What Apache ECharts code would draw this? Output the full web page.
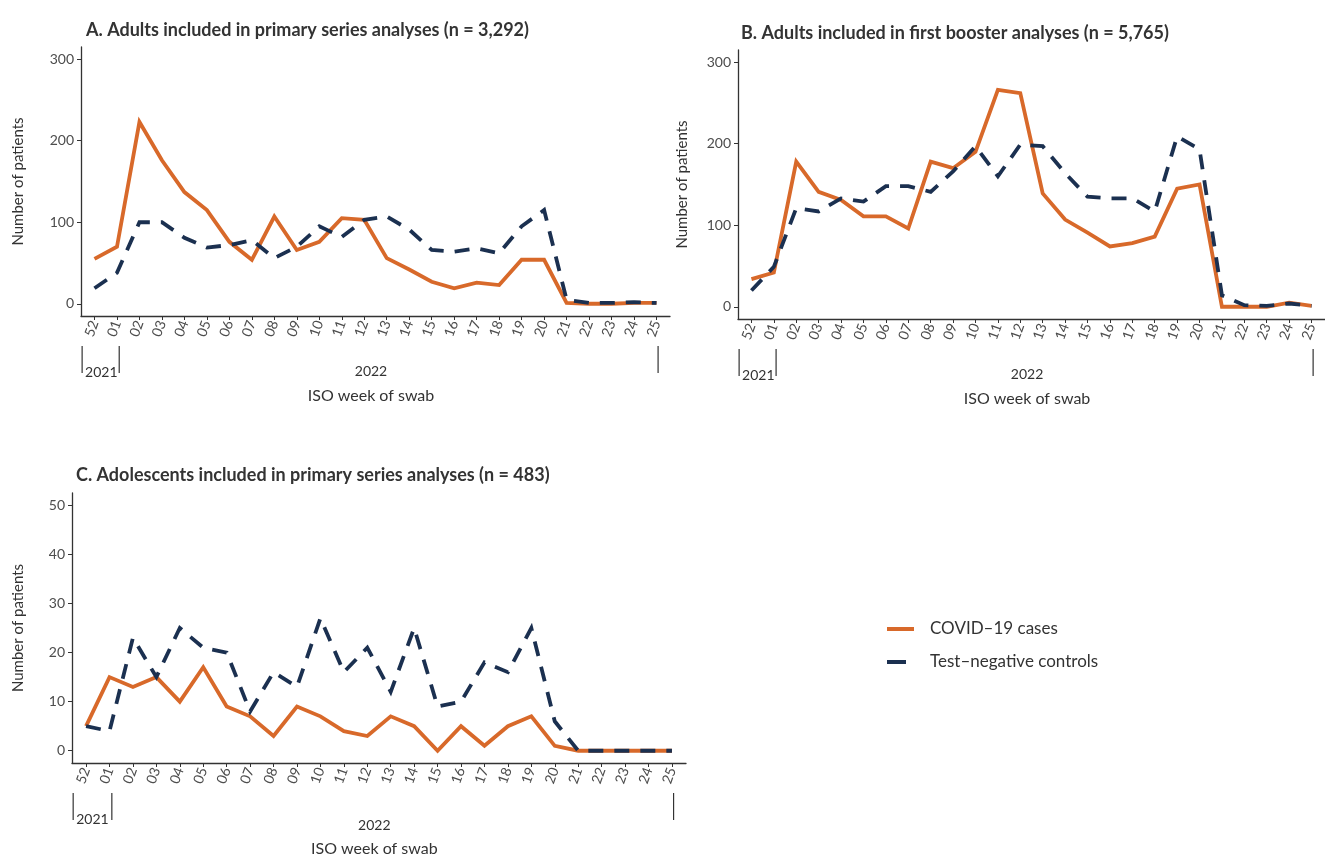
<!DOCTYPE html>
<html>
<head>
<meta charset="utf-8">
<script src="https://cdn.jsdelivr.net/npm/echarts@6/dist/echarts.min.js"></script>
<style>
html,body{margin:0;padding:0;background:#fff;}
#chart{width:1325px;height:855px;}
</style>
</head>
<body>
<div id="chart"></div>
<script>
const weeks = ['52','01','02','03','04','05','06','07','08','09','10','11','12','13','14','15','16','17','18','19','20','21','22','23','24','25'];

const aCases    = [55,70,223,176,137,115,76,54,107,66,76,105,103,56,42,27,19,26,23,54,54,1,0,0,1,1];
const aControls = [19,38,100,100,81,69,72,78,56,70,95,82,103,107,91,66,64,68,62,95,115,5,1,1,2,1];

const bCases    = [34,42,178,141,131,111,111,96,178,170,190,266,262,139,107,91,74,78,86,145,150,0,0,0,5,1];
const bControls = [20,49,121,117,133,129,148,148,141,166,197,160,199,197,164,135,133,133,117,209,193,14,2,1,4,1];

const cCases    = [5,15,13,15,10,17,9,7,3,9,7,4,3,7,5,0,5,1,5,7,1,0,0,0,0,0];
const cControls = [5,4,23,15,25,21,20,8,16,13,27,16,21,12,25,9,10,18,16,25,6,0,0,0,0,0];

const abTicks = [0,100,200,300];
const cTicks  = [0,10,20,30,40,50];

const titles = [
  'A. Adults included in primary series analyses (n = 3,292)',
  'B. Adults included in first booster analyses (n = 5,765)',
  'C. Adolescents included in primary series analyses (n = 483)'
];
const seriesNames = ['COVID–19 cases','Test–negative controls'];
const yearLabels = ['2021','2022'];
const xName = 'ISO week of swab';
const yName = 'Number of patients';

const ORANGE = '#D8692A';
const NAVY = '#1B3050';
const FONT = 'Lato';
const idx = weeks.map((w,i)=>i);

const chart = echarts.init(document.getElementById('chart'));

function xAxis(g){
  return {
    type:'value', gridIndex:g, min:-0.6, max:25.6,
    axisLine:{show:true,onZero:false,lineStyle:{color:'#333',width:1.3}},
    splitLine:{show:false},
    axisTick:{show:true,customValues:idx,length:4,lineStyle:{color:'#333'}},
    axisLabel:{customValues:idx,formatter:v=>weeks[Math.round(v)],rotate:70,
      fontFamily:FONT,fontSize:14,color:'#4d4d4d',margin:5}
  };
}
function yAxis(g,min,max,ticks,gap){
  return {
    type:'value', gridIndex:g, min:min, max:max,
    name:yName, nameLocation:'middle', nameGap:gap, nameRotate:90,
    nameTextStyle:{fontFamily:FONT,fontSize:15,color:'#333'},
    axisLine:{show:true,onZero:false,lineStyle:{color:'#333',width:1.3}},
    splitLine:{show:false},
    axisTick:{show:true,customValues:ticks,length:4,lineStyle:{color:'#333'}},
    axisLabel:{customValues:ticks,fontFamily:FONT,fontSize:14,color:'#4d4d4d',margin:7}
  };
}
function line(name,data,g,color,dashed){
  return {
    name:name, type:'line', xAxisIndex:g, yAxisIndex:g,
    data:data.map((v,i)=>[i,v]), symbol:'none', animation:false,
    lineStyle:{color:color,width:3.8,type:dashed?[15,11]:'solid',cap:'butt',join:'miter'},
    itemStyle:{color:color,borderWidth:0}, z: dashed?3:2
  };
}

chart.setOption({
  animation:false,
  title:[
    {text:titles[0],left:81,top:16,textStyle:{fontFamily:FONT,fontSize:18,fontWeight:'bold',color:'#333'}},
    {text:titles[1],left:736,top:19,textStyle:{fontFamily:FONT,fontSize:18,fontWeight:'bold',color:'#333'}},
    {text:titles[2],left:71,top:461,textStyle:{fontFamily:FONT,fontSize:18,fontWeight:'bold',color:'#333'}}
  ],
  grid:[
    {left:81,top:47,width:589,height:269},
    {left:738,top:50,width:590,height:269},
    {left:72,top:493,width:614,height:270}
  ],
  xAxis:[xAxis(0),xAxis(1),xAxis(2)],
  yAxis:[yAxis(0,-15,315,abTicks,55),yAxis(1,-15,315,abTicks,48),yAxis(2,-2.5,52.5,cTicks,46)],
  legend:{
    data:[
      {name:seriesNames[0],icon:'path://M0,0L27,0L27,4L0,4Z M38,0L38,4'},
      {name:seriesNames[1],icon:'path://M0,0L19,0L19,4L0,4Z M38,0L38,4'}
    ],
    orient:'vertical', left:882, top:614, itemWidth:38, itemHeight:4, itemGap:13,
    itemStyle:{borderWidth:0},
    textStyle:{fontFamily:FONT,fontSize:17,color:'#333',lineHeight:20}, selectedMode:false
  },
  series:[
    line(seriesNames[0],aCases,0,ORANGE,false),
    line(seriesNames[1],aControls,0,NAVY,true),
    line(seriesNames[0],bCases,1,ORANGE,false),
    line(seriesNames[1],bControls,1,NAVY,true),
    line(seriesNames[0],cCases,2,ORANGE,false),
    line(seriesNames[1],cControls,2,NAVY,true)
  ]
});

// nested year annotation under each x axis
const axisY = [316,319,763];
const g = [];
for(let k=0;k<3;k++){
  const px = v => chart.convertToPixel({xAxisIndex:k},v);
  const y0 = axisY[k];
  const x1 = px(-0.55), x2 = px(1.1), x3 = px(25.07);
  [x1,x2,x3].forEach(x=>{
    g.push({type:'line',shape:{x1:x,y1:y0+30,x2:x,y2:y0+57},style:{stroke:'#333',lineWidth:1.2}});
  });
  g.push({type:'text',x:x1+3,y:y0+56,style:{text:yearLabels[0],fontFamily:FONT,fontSize:14,fill:'#333',align:'left',verticalAlign:'middle'}});
  const y2022 = k===2 ? y0+62 : y0+55;
  const yIso  = k===2 ? y0+86 : y0+80;
  g.push({type:'text',x:px(12.3),y:y2022,style:{text:yearLabels[1],fontFamily:FONT,fontSize:14,fill:'#333',align:'center',verticalAlign:'middle'}});
  g.push({type:'text',x:px(12.3),y:yIso,style:{text:xName,fontFamily:FONT,fontSize:16,fill:'#333',align:'center',verticalAlign:'middle'}});
}
chart.setOption({graphic:g});
</script>
</body>
</html>
